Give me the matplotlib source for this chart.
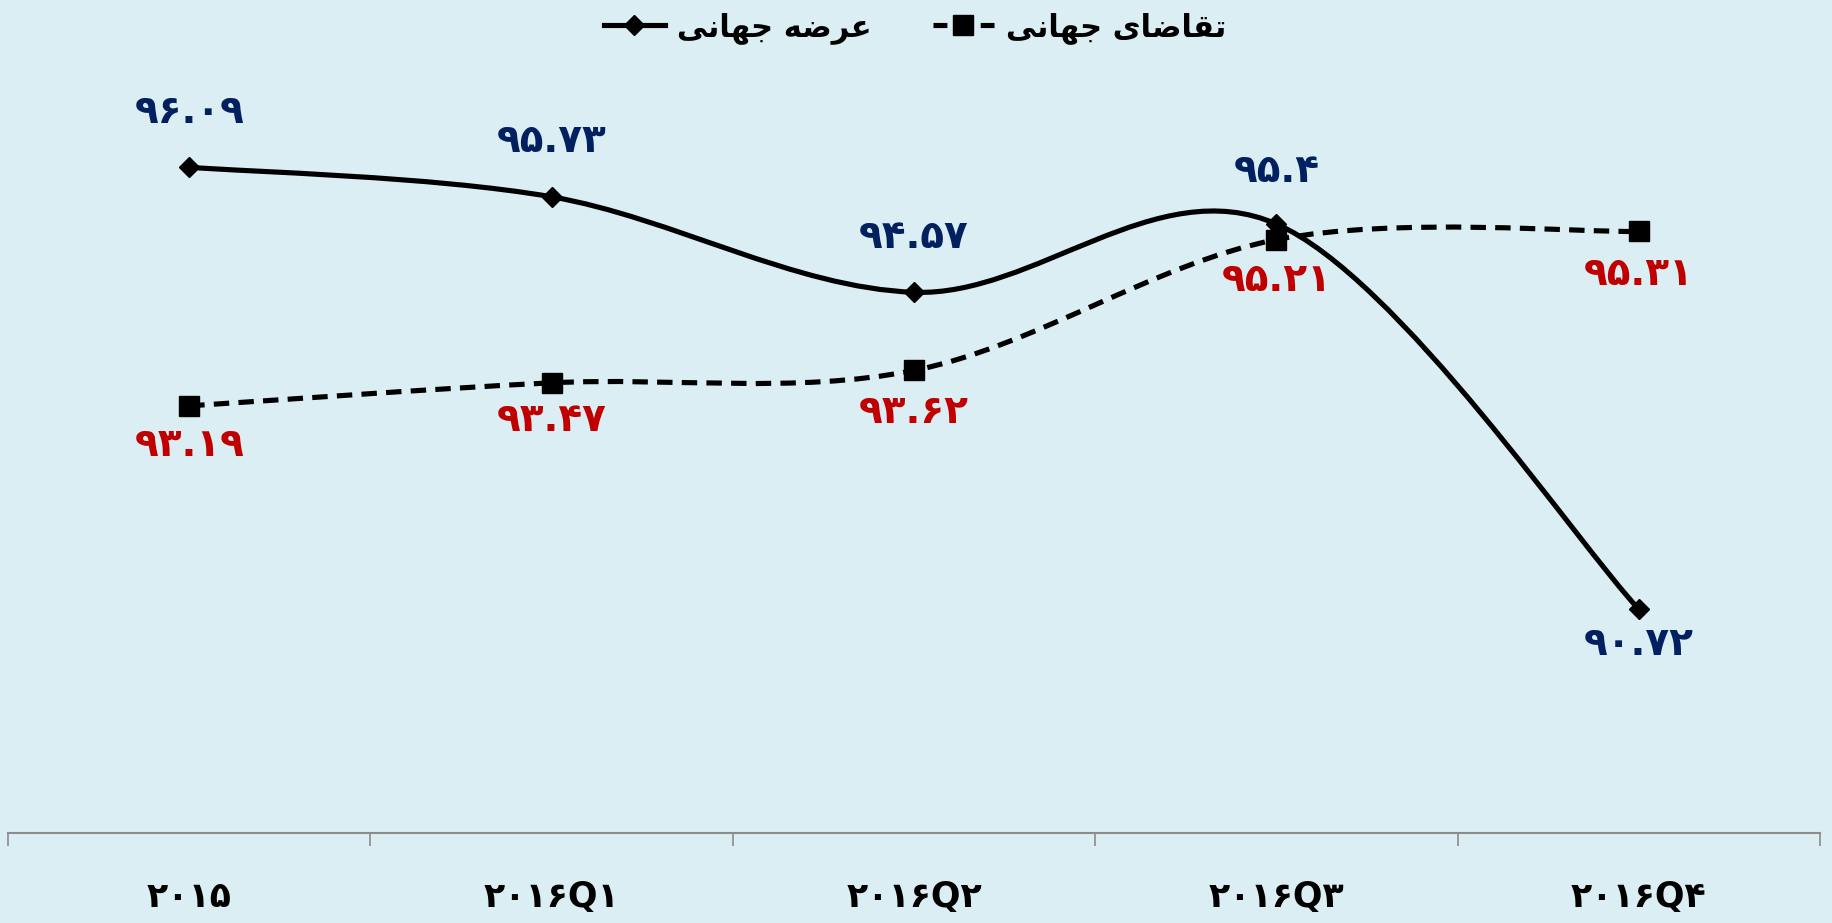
import numpy as np
import matplotlib
matplotlib.use("Agg")
import matplotlib.pyplot as plt
from matplotlib.path import Path
from matplotlib.patches import PathPatch
from matplotlib.lines import Line2D

# ---------------- data ----------------
categories = ["۲۰۱۵", "۲۰۱۶Q۱", "۲۰۱۶Q۲", "۲۰۱۶Q۳", "۲۰۱۶Q۴"]
supply_name = "عرضه جهانی"
demand_name = "تقاضای جهانی"
supply = [96.09, 95.73, 94.57, 95.4, 90.72]
demand = [93.19, 93.47, 93.62, 95.21, 95.31]

# ---------------- helpers ----------------
FA_DIGITS = str.maketrans("0123456789", "۰۱۲۳۴۵۶۷۸۹")

def fa_num(v):
    s = f"{v:.2f}".rstrip("0").rstrip(".")
    return s.translate(FA_DIGITS)

# minimal Arabic shaper (iso, fin, init, med)
FORMS = {
    'ع': ('\uFEC9', '\uFECA', '\uFECB', '\uFECC'),
    'ر': ('\uFEAD', '\uFEAE', None, None),
    'ض': ('\uFEBD', '\uFEBE', '\uFEBF', '\uFEC0'),
    'ه': ('\uFEE9', '\uFEEA', '\uFEEB', '\uFEEC'),
    'ج': ('\uFE9D', '\uFE9E', '\uFE9F', '\uFEA0'),
    'ا': ('\uFE8D', '\uFE8E', None, None),
    'ن': ('\uFEE5', '\uFEE6', '\uFEE7', '\uFEE8'),
    'ی': ('\uFEEF', '\uFEF0', '\uFEF3', '\uFEF4'),
    'ت': ('\uFE95', '\uFE96', '\uFE97', '\uFE98'),
    'ق': ('\uFED5', '\uFED6', '\uFED7', '\uFED8'),
}

def shape(text):
    out = []
    n = len(text)
    for i, ch in enumerate(text):
        if ch not in FORMS:
            out.append(ch)
            continue
        prev = text[i - 1] if i > 0 else None
        nxt = text[i + 1] if i + 1 < n else None
        jp = prev in FORMS and FORMS[prev][2] is not None
        jn = FORMS[ch][2] is not None and nxt in FORMS
        f = FORMS[ch]
        if jp and jn:
            out.append(f[3])
        elif jp:
            out.append(f[1])
        elif jn:
            out.append(f[2])
        else:
            out.append(f[0])
    return "".join(out[::-1])

def smooth_path(xs, ys):
    pts = np.column_stack([xs, ys]).astype(float)
    n = len(pts)
    verts = [pts[0]]
    codes = [Path.MOVETO]
    for i in range(n - 1):
        p0 = pts[i - 1] if i > 0 else pts[i]
        p1 = pts[i]
        p2 = pts[i + 1]
        p3 = pts[i + 2] if i + 2 < n else pts[i + 1]
        c1 = p1 + (p2 - p0) / 6.0
        c2 = p2 - (p3 - p1) / 6.0
        verts += [c1, c2, p2]
        codes += [Path.CURVE4] * 3
    return Path(verts, codes)

# ---------------- figure ----------------
BG = "#DAEEF3"
BLUE = "#002060"
RED = "#C00000"
plt.rcParams['font.family'] = ['DejaVu Sans']

W, H = 1832, 923
fig = plt.figure(figsize=(W / 100, H / 100), dpi=100, facecolor=BG)
ax = fig.add_axes([8 / W, 90 / H, 1812 / W, 823 / H])
ax.set_facecolor(BG)
x = np.arange(len(categories))
ax.set_xlim(-0.5, len(categories) - 0.5)
ax.set_ylim(88, 98)

# lines
ax.add_patch(PathPatch(smooth_path(x, supply), fill=False, edgecolor="black",
                       lw=3.7, capstyle="round", joinstyle="round", zorder=3))
ax.add_patch(PathPatch(smooth_path(x, demand), fill=False, edgecolor="black",
                       lw=3.7, linestyle=(0, (3.0, 1.8)), capstyle="butt", zorder=3))
ax.plot(x, supply, ls="none", marker="D", ms=10.5, color="black", zorder=4)
ax.plot(x, demand, ls="none", marker="s", ms=14, color="black", zorder=4)

# data labels
sup_off = [40, 40, 40, 38, -25]
dem_off = [-28, -27, -30, -29, -31]
for xi, v, o in zip(x, supply, sup_off):
    ax.annotate(fa_num(v), (xi, v), xytext=(0, o), textcoords="offset points",
                ha="center", va="center", fontsize=28, fontweight="bold", color=BLUE)
for xi, v, o in zip(x, demand, dem_off):
    ax.annotate(fa_num(v), (xi, v), xytext=(0, o), textcoords="offset points",
                ha="center", va="center", fontsize=28, fontweight="bold", color=RED)

# axes styling
for s in ["top", "left", "right"]:
    ax.spines[s].set_visible(False)
ax.spines["bottom"].set_color("#8C8C8C")
ax.spines["bottom"].set_linewidth(1.5)
ax.set_yticks([])
ax.set_xticks(x)
ax.set_xticklabels(categories, fontsize=25, fontweight="bold")
ax.set_xticks(np.arange(-0.5, len(categories), 1.0), minor=True)
ax.tick_params(axis="x", which="major", length=0, pad=34)
ax.tick_params(axis="x", which="minor", length=9.5, width=1.2, color="#8C8C8C", direction="out")

# legend
handles = [
    Line2D([], [], color="black", lw=3.7, marker="D", ms=10.5),
    Line2D([], [], color="black", lw=3.7, ls=(0, (10 / 3.7, 24 / 3.7)), marker="s", ms=14),
]
leg = fig.legend(handles, [shape(supply_name), shape(demand_name)], loc="center",
                 bbox_to_anchor=(915 / W, 1 - 28 / H), ncol=2, frameon=False,
                 prop={"size": 22, "weight": "bold"}, handlelength=2.0,
                 columnspacing=2.0, handletextpad=0.4)

fig.savefig("out.png", dpi=100, facecolor=BG)
